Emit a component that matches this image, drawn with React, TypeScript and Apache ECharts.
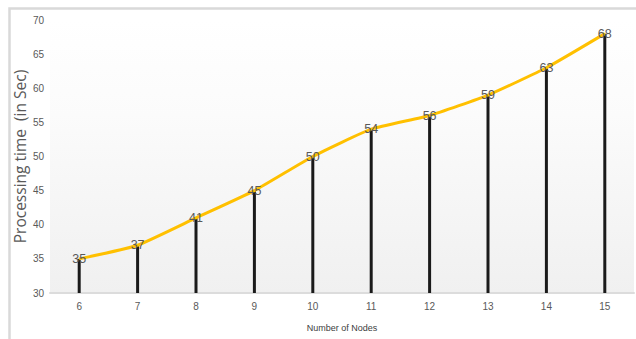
import React, { useEffect, useRef } from "react";
import * as echarts from "echarts";

const categories = ["6", "7", "8", "9", "10", "11", "12", "13", "14", "15"];
const processingTime = [35, 37, 41, 45, 50, 54, 56, 59, 63, 68];
const yTitle = "Processing time  (in Sec)";
const xTitle = "Number of Nodes";

export default function App() {
  const ref = useRef<HTMLDivElement>(null);
  useEffect(() => {
    if (!ref.current) return;
    const chart = echarts.init(ref.current, undefined, { renderer: "svg" });
    chart.setOption({
      animation: false,
      backgroundColor: "#ffffff",
      graphic: [
        {
          type: "rect",
          z: -10,
          silent: true,
          shape: { x: 9.5, y: 8.5, width: 700, height: 400 },
          style: { fill: "none", stroke: "#d9d9d9", lineWidth: 2.5 },
        },
      ],
      grid: {
        left: 50,
        right: 2,
        top: 20,
        bottom: 46,
        show: true,
        borderWidth: 0,
        backgroundColor: new echarts.graphic.LinearGradient(0, 0, 0, 1, [
          { offset: 0, color: "#ffffff" },
          { offset: 0.35, color: "#fbfbfb" },
          { offset: 1, color: "#f0f0f0" },
        ]),
      },
      xAxis: {
        type: "category",
        data: categories,
        boundaryGap: true,
        axisLine: { lineStyle: { color: "#dcdcdc", width: 2 } },
        axisTick: { show: false },
        axisLabel: {
          color: "#595959",
          fontSize: 10,
          margin: 8,
          fontFamily: "Liberation Sans, sans-serif",
        },
        name: xTitle,
        nameLocation: "middle",
        nameGap: 30,
        nameMoveOverlap: false,
        nameTextStyle: {
          color: "#404040",
          fontSize: 9,
          fontFamily: "Liberation Sans, sans-serif",
        },
      },
      yAxis: {
        type: "value",
        min: 30,
        max: 70,
        interval: 5,
        splitLine: { show: false },
        axisLine: { show: false },
        axisTick: { show: false },
        axisLabel: {
          color: "#595959",
          fontSize: 10,
          margin: 6,
          fontFamily: "Liberation Sans, sans-serif",
        },
        name: yTitle,
        nameLocation: "middle",
        nameRotate: 90,
        nameGap: 22,
        nameMoveOverlap: false,
        nameTextStyle: {
          color: "#595959",
          fontSize: 15.5,
          fontFamily: "Open Sans, sans-serif",
        },
      },
      series: [
        {
          type: "bar",
          data: processingTime,
          barWidth: 3,
          itemStyle: { color: "#1a1a1a" },
          z: 2,
        },
        {
          type: "line",
          data: processingTime,
          smooth: 0.15,
          symbol: "circle",
          symbolSize: 1,
          itemStyle: { color: "#FFC000" },
          lineStyle: { color: "#FFC000", width: 3 },
          z: 3,
          label: {
            show: true,
            position: "inside",
            color: "#595959",
            fontSize: 12.5,
            fontFamily: "Liberation Sans, sans-serif",
          },
        },
      ],
    });
    return () => chart.dispose();
  }, []);
  return (
    <div
      ref={ref}
      style={{ position: "fixed", left: 0, top: 0, width: 636, height: 339 }}
    />
  );
}
